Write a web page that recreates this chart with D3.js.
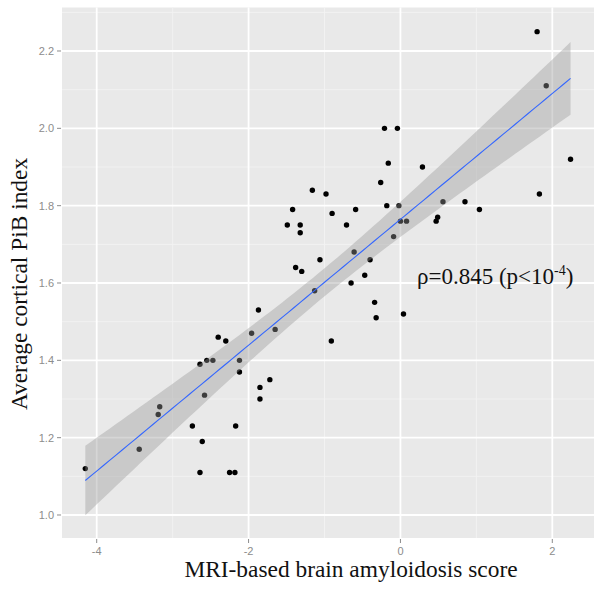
<!DOCTYPE html>
<html>
<head>
<meta charset="utf-8">
<script src="https://cdn.jsdelivr.net/npm/d3@7"></script>
<style>
  html, body { margin: 0; padding: 0; background: #fff; }
  svg { display: block; }
  .tick-label { font-family: "Liberation Sans", Arial, sans-serif; font-size: 11px; fill: #8c8c8c; }
  .axis-title { font-family: "Liberation Serif", "Times New Roman", serif; font-size: 23.4px; fill: #111; }
  .note { font-family: "Liberation Serif", "Times New Roman", serif; font-size: 23px; fill: #111; }
</style>
</head>
<body>
<svg id="chart" width="602" height="590"></svg>
<script>
'use strict';

// ── Data ────────────────────────────────────────────────────────────────────
const scoreX = [
  -4.15, -3.44, -3.17, -3.19, -2.58, -2.74, -2.61, -2.64, -2.25, -2.18,
  -2.17, -1.85, -1.85, -1.72, -2.64, -2.55, -2.47, -2.12, -2.12, -2.40,
  -2.30, -1.96, -1.65, -1.87, -0.91, -1.42, -1.49, -1.32, -1.32, -1.38,
  -1.30, -1.16, -0.98, -0.90, -0.59, -0.71, -0.61, -1.06, -0.40, -0.47,
  -0.65, -1.13, -0.34, -0.32,  0.04, -0.21, -0.04, -0.16,  0.29, -0.26,
  -0.18, -0.02,  0.56,  0.85,  1.04,  0.00,  0.08,  0.49,  0.47, -0.09,
   1.80,  1.92,  2.24,  1.83
];
const pibY = [
  1.12, 1.17, 1.28, 1.26, 1.31, 1.23, 1.19, 1.11, 1.11, 1.11,
  1.23, 1.33, 1.30, 1.35, 1.39, 1.40, 1.40, 1.40, 1.37, 1.46,
  1.45, 1.47, 1.48, 1.53, 1.45, 1.79, 1.75, 1.75, 1.73, 1.64,
  1.63, 1.84, 1.83, 1.78, 1.79, 1.75, 1.68, 1.66, 1.66, 1.62,
  1.60, 1.58, 1.55, 1.51, 1.52, 2.00, 2.00, 1.91, 1.90, 1.86,
  1.80, 1.80, 1.81, 1.81, 1.79, 1.76, 1.76, 1.77, 1.76, 1.72,
  2.25, 2.11, 1.92, 1.83
];
const xTicks = [-4, -2, 0, 2];
const xMinor = [-3, -1, 1];
const yTicks = [1.0, 1.2, 1.4, 1.6, 1.8, 2.0, 2.2];
const yMinor = [1.1, 1.3, 1.5, 1.7, 1.9, 2.1, 2.3];

const xTitle = 'MRI-based brain amyloidosis score';
const yTitle = 'Average cortical PiB index';

// ── Layout ──────────────────────────────────────────────────────────────────
const panel = { left: 62, right: 594, top: 7.5, bottom: 538 };

const x = d3.scaleLinear().domain([-4.457, 2.549]).range([panel.left, panel.right]);
const y = d3.scaleLinear().domain([0.9405, 2.3125]).range([panel.bottom, panel.top]);

const svg = d3.select('#chart');

// panel background
svg.append('rect')
  .attr('x', panel.left).attr('y', panel.top)
  .attr('width', panel.right - panel.left).attr('height', panel.bottom - panel.top)
  .attr('fill', '#e9e9e9');

// ── Grid ────────────────────────────────────────────────────────────────────
const grid = svg.append('g');
grid.selectAll('line.vminor').data(xMinor).join('line')
  .attr('x1', d => x(d)).attr('x2', d => x(d))
  .attr('y1', panel.top).attr('y2', panel.bottom)
  .attr('stroke', '#f3f3f3').attr('stroke-width', 0.9);
grid.selectAll('line.hminor').data(yMinor).join('line')
  .attr('x1', panel.left).attr('x2', panel.right)
  .attr('y1', d => y(d)).attr('y2', d => y(d))
  .attr('stroke', '#f3f3f3').attr('stroke-width', 0.9);
grid.selectAll('line.vmajor').data(xTicks).join('line')
  .attr('x1', d => x(d)).attr('x2', d => x(d))
  .attr('y1', panel.top).attr('y2', panel.bottom)
  .attr('stroke', '#fff').attr('stroke-width', 1.8);
grid.selectAll('line.hmajor').data(yTicks).join('line')
  .attr('x1', panel.left).attr('x2', panel.right)
  .attr('y1', d => y(d)).attr('y2', d => y(d))
  .attr('stroke', '#fff').attr('stroke-width', 1.8);

// ── Points ──────────────────────────────────────────────────────────────────
const pts = scoreX.map((v, i) => ({ x: v, y: pibY[i] }));
svg.append('g').selectAll('circle')
  .data(pts).join('circle')
  .attr('cx', d => x(d.x)).attr('cy', d => y(d.y))
  .attr('r', 2.7)
  .attr('fill', '#000');

// ── Linear fit + 95% band (like geom_smooth(method = "lm")) ─────────────────
const n = pts.length;
const mx = d3.mean(pts, d => d.x);
const my = d3.mean(pts, d => d.y);
const sxx = d3.sum(pts, d => (d.x - mx) ** 2);
const sxy = d3.sum(pts, d => (d.x - mx) * (d.y - my));
const slope = sxy / sxx;
const icept = my - slope * mx;
const sres = Math.sqrt(d3.sum(pts, d => (d.y - (icept + slope * d.x)) ** 2) / (n - 2));
const tq = 1.999; // t(0.975, df = 62)

const [xlo, xhi] = d3.extent(scoreX);
const grid80 = d3.range(80).map(i => xlo + (xhi - xlo) * i / 79);
const fit = grid80.map(v => {
  const yh = icept + slope * v;
  const se = sres * Math.sqrt(1 / n + (v - mx) ** 2 / sxx);
  return { x: v, y: yh, lo: yh - tq * se, hi: yh + tq * se };
});

svg.append('path')
  .datum(fit)
  .attr('d', d3.area().x(d => x(d.x)).y0(d => y(d.lo)).y1(d => y(d.hi)))
  .attr('fill', '#999').attr('fill-opacity', 0.4);

svg.append('path')
  .datum(fit)
  .attr('d', d3.line().x(d => x(d.x)).y(d => y(d.y)))
  .attr('fill', 'none').attr('stroke', '#3366ff').attr('stroke-width', 1.1);

// ── Axes (ticks + labels) ───────────────────────────────────────────────────
const axisG = svg.append('g');
axisG.selectAll('line.xt').data(xTicks).join('line')
  .attr('x1', d => x(d)).attr('x2', d => x(d))
  .attr('y1', panel.bottom + 1).attr('y2', panel.bottom + 5)
  .attr('stroke', '#8c8c8c').attr('stroke-width', 1);
axisG.selectAll('text.xl').data(xTicks).join('text')
  .attr('class', 'tick-label')
  .attr('x', d => x(d)).attr('y', panel.bottom + 17)
  .attr('text-anchor', 'middle')
  .text(d => d3.format('d')(d).replace('−', '-'));

axisG.selectAll('line.yt').data(yTicks).join('line')
  .attr('x1', panel.left - 5).attr('x2', panel.left - 1)
  .attr('y1', d => y(d)).attr('y2', d => y(d))
  .attr('stroke', '#8c8c8c').attr('stroke-width', 1);
axisG.selectAll('text.yl').data(yTicks).join('text')
  .attr('class', 'tick-label')
  .attr('x', panel.left - 8).attr('y', d => y(d))
  .attr('dy', '0.35em')
  .attr('text-anchor', 'end')
  .text(d => d3.format('.1f')(d));

// ── Titles ──────────────────────────────────────────────────────────────────
svg.append('text')
  .attr('class', 'axis-title')
  .attr('x', 351).attr('y', 577)
  .attr('text-anchor', 'middle')
  .text(xTitle);

svg.append('text')
  .attr('class', 'axis-title')
  .attr('transform', 'translate(27,' + 284 + ') rotate(-90)')
  .attr('text-anchor', 'middle')
  .text(yTitle);

// ── Annotation ──────────────────────────────────────────────────────────────
const note = svg.append('text')
  .attr('class', 'note')
  .attr('x', 417).attr('y', 284);
note.append('tspan').text('ρ=0.845 (p<10');
note.append('tspan').attr('font-size', '14px').attr('dy', -9).text('-4');
note.append('tspan').attr('dy', 9).text(')');
</script>
</body>
</html>
